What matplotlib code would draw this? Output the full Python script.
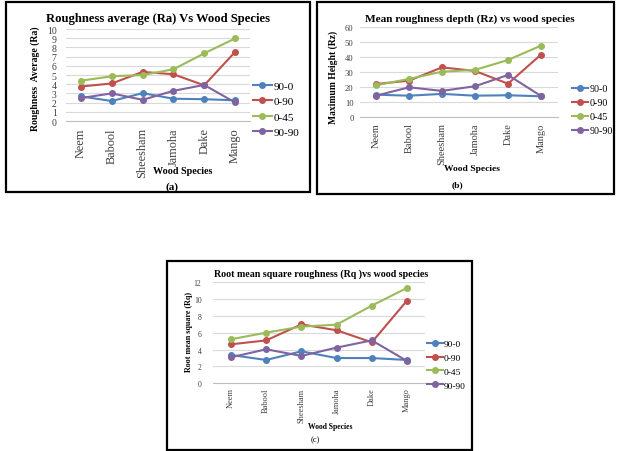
import numpy as np
import matplotlib
matplotlib.use("Agg")
import matplotlib.pyplot as plt
from matplotlib.patches import Rectangle

plt.rcParams['font.family'] = ['Liberation Serif', 'DejaVu Serif']

species = ['Neem', 'Babool', 'Sheesham', 'Jamoha', 'Dake', 'Mango']
series_names = ['90-0', '0-90', '0-45', '90-90']
colors = ['#4F81BD', '#C0504D', '#9BBB59', '#8064A2']

# roughness average Ra
ra_90_0 = [2.67, 2.17, 3.03, 2.42, 2.37, 2.25]
ra_0_90 = [3.75, 4.08, 5.34, 5.08, 3.88, 7.5]
ra_0_45 = [4.38, 4.86, 5.0, 5.62, 7.35, 8.97]
ra_90_90 = [2.5, 3.0, 2.3, 3.28, 3.92, 2.02]

# mean roughness depth Rz
rz_90_0 = [15.1, 14.4, 15.6, 14.4, 14.7, 14.0]
rz_0_90 = [22.2, 24.4, 33.3, 30.9, 22.4, 41.8]
rz_0_45 = [21.3, 25.6, 30.4, 31.6, 38.2, 47.8]
rz_90_90 = [14.4, 20.0, 17.6, 20.7, 28.2, 14.2]

# root mean square roughness Rq
rq_90_0 = [3.37, 2.77, 3.8, 3.0, 3.0, 2.77]
rq_0_90 = [4.63, 5.1, 7.0, 6.3, 4.87, 9.82]
rq_0_45 = [5.23, 6.02, 6.73, 6.97, 9.23, 11.33]
rq_90_90 = [3.09, 4.04, 3.25, 4.24, 5.1, 2.65]

W, H = 618, 452
fig = plt.figure(figsize=(W / 100, H / 100), dpi=100)


def fx(x):
    return x / W


def fy(y):
    return 1 - y / H


def px_axes(left, top, right, bottom):
    return fig.add_axes([fx(left), fy(bottom), fx(right) - fx(left), (bottom - top) / H])


def box(left, top, right, bottom):
    fig.patches.append(Rectangle((fx(left), fy(bottom)), fx(right) - fx(left), (bottom - top) / H,
                                 transform=fig.transFigure, fill=False, lw=1.6, ec='black'))


def panel(rect, data, ymax, ystep, title, ylabel, caption,
          tpos, ylpos, xlpos, cappos, legpos,
          fs_title, fs_ylab, fs_xlab, fs_ytick, fs_xtick, fs_leg, fs_cap,
          ypad, xpad, hlen, lspace, cap_weight='bold'):
    ax = px_axes(*rect)
    x = np.arange(len(species))
    for vals, name, c in zip(data, series_names, colors):
        ax.plot(x, vals, '-o', color=c, lw=1.5, ms=4, label=name)
    ax.set_xlim(-0.5, len(species) - 0.5)
    ax.set_ylim(0, ymax)
    ax.set_yticks(np.arange(0, ymax + ystep / 2, ystep))
    ax.set_xticks(x)
    ax.set_xticklabels(species, rotation=90)
    ax.tick_params(axis='both', length=0, colors='#404040')
    ax.tick_params(axis='y', labelsize=fs_ytick, pad=ypad)
    ax.tick_params(axis='x', labelsize=fs_xtick, pad=xpad)
    ax.grid(axis='y', color='#D9D9D9', lw=0.8)
    ax.set_axisbelow(True)
    for s in ['top', 'right', 'left']:
        ax.spines[s].set_visible(False)
    ax.spines['bottom'].set_color('#BFBFBF')
    ax.spines['bottom'].set_linewidth(0.8)

    fig.text(fx(tpos[0]), fy(tpos[1]), title, ha='center', va='center',
             fontsize=fs_title, fontweight='bold')
    fig.text(fx(ylpos[0]), fy(ylpos[1]), ylabel, ha='center', va='center',
             rotation=90, fontsize=fs_ylab, fontweight='bold')
    fig.text(fx(xlpos[0]), fy(xlpos[1]), 'Wood Species', ha='center', va='center',
             fontsize=fs_xlab, fontweight='bold')
    fig.text(fx(cappos[0]), fy(cappos[1]), caption, ha='center', va='center',
             fontsize=fs_cap, fontweight=cap_weight)
    ax.legend(loc='center left', bbox_to_anchor=(fx(legpos[0]), fy(legpos[1])),
              bbox_transform=fig.transFigure, frameon=False, fontsize=fs_leg,
              handlelength=hlen, handletextpad=0.15, labelspacing=lspace,
              borderaxespad=0, borderpad=0)
    return ax


panel((65.6, 30, 250.4, 122), [ra_90_0, ra_0_90, ra_0_45, ra_90_90], 10, 1,
      'Roughness average (Ra) Vs Wood Species', 'Roughness  Average (Ra)', '(a)',
      (158, 19), (35, 79), (183, 172), (172, 187), (253, 110),
      fs_title=9.1, fs_ylab=7, fs_xlab=7.3, fs_ytick=7, fs_xtick=8.8, fs_leg=8, fs_cap=8,
      ypad=6.5, xpad=4.5, hlen=1.7, lspace=0.5)
box(5.5, 3, 310, 193)

panel((359.5, 28.3, 557.5, 118.3), [rz_90_0, rz_0_90, rz_0_45, rz_90_90], 60, 10,
      'Mean roughness depth (Rz) vs wood species', 'Maximum Height (Rz)', '(b)',
      (470, 19), (333, 77), (472, 169), (457, 185), (572, 110.5),
      fs_title=8.15, fs_ylab=6.9, fs_xlab=6.8, fs_ytick=6.2, fs_xtick=7.5, fs_leg=7.2, fs_cap=6.8,
      ypad=4.3, xpad=3.6, hlen=1.6, lspace=0.5)
box(317, 3, 614, 195)

panel((213.4, 283.3, 424.6, 384.3), [rq_90_0, rq_0_90, rq_0_45, rq_90_90], 12, 2,
      'Root mean square roughness (Rq )vs wood species', 'Root mean square (Rq)', '(c)',
      (321, 274), (189, 332), (330, 427), (315, 440), (427, 365.5),
      fs_title=7.2, fs_ylab=5.8, fs_xlab=5.5, fs_ytick=5.5, fs_xtick=6, fs_leg=6.8, fs_cap=6,
      ypad=8.6, xpad=3, hlen=1.65, lspace=0.55, cap_weight='normal')
box(167, 262, 472, 451)

fig.savefig('out.png', dpi=100)
